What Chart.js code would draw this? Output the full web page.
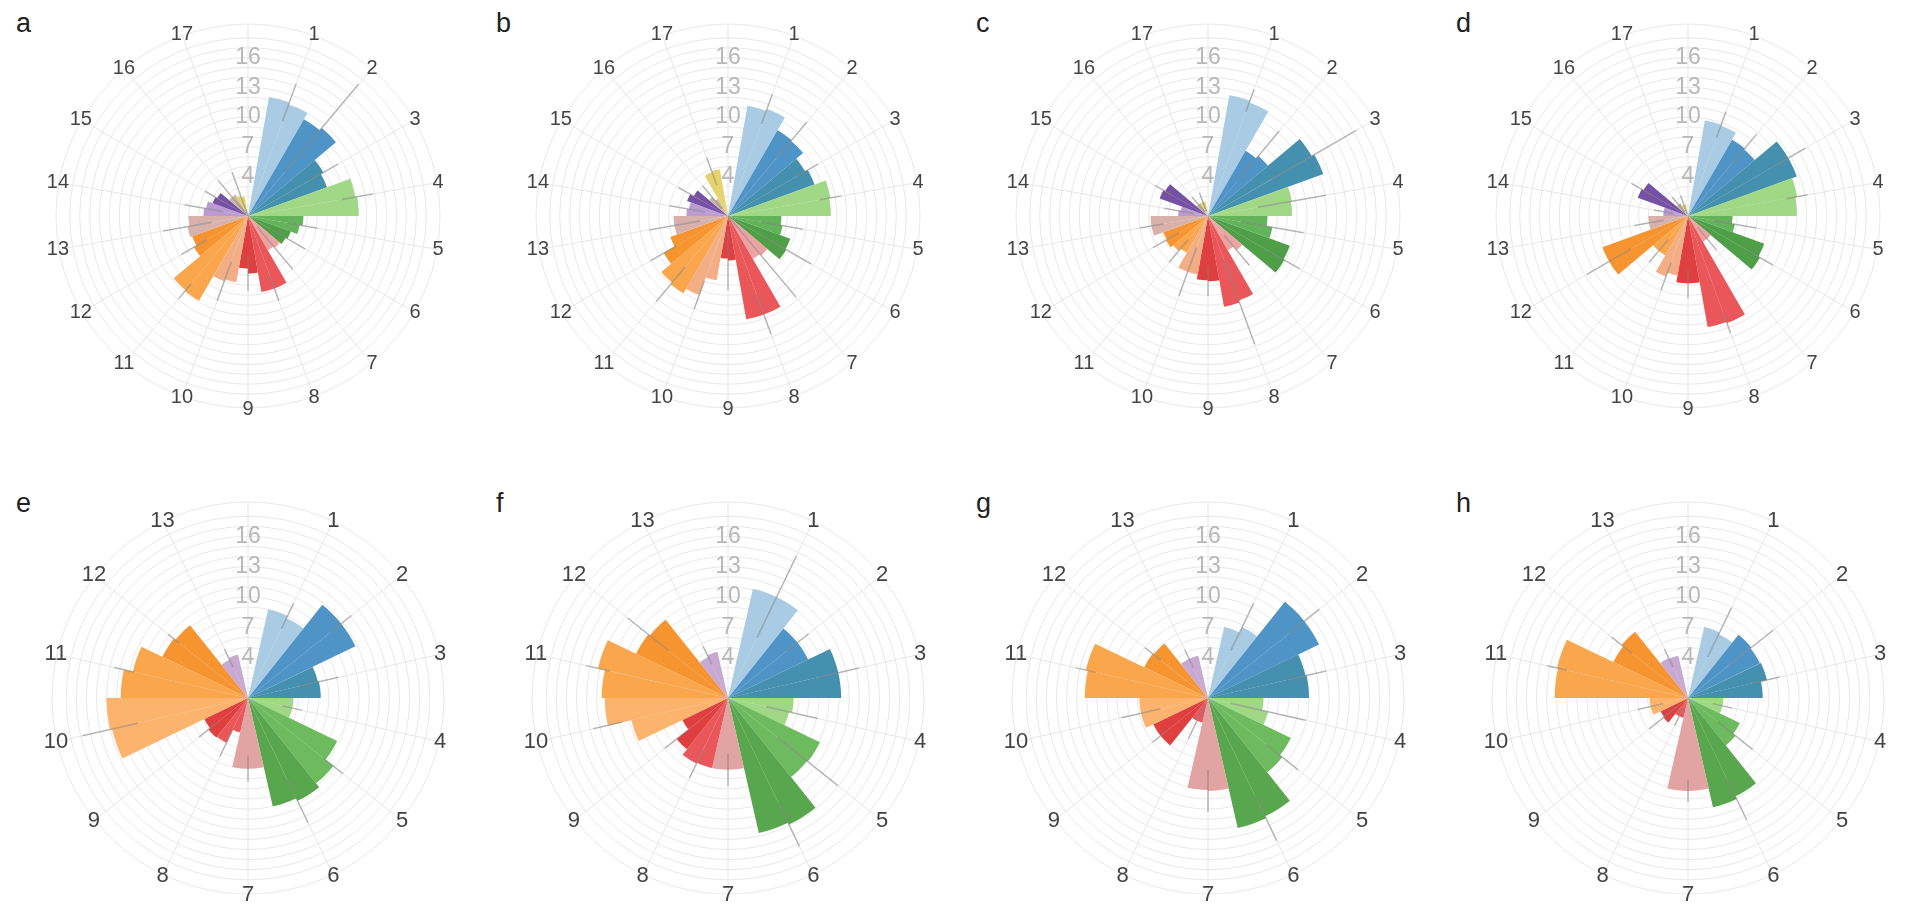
<!DOCTYPE html>
<html>
<head>
<meta charset="utf-8">
<script src="https://cdn.jsdelivr.net/npm/chart.js@4.4.1/dist/chart.umd.min.js"></script>
<style>
  html, body { margin: 0; padding: 0; background: #fff; width: 1906px; height: 906px; overflow: hidden; }
  body { position: relative; font-family: "Liberation Sans", Arial, sans-serif; }
  .panel { position: absolute; }
  .tag { position: absolute; font-size: 27px; line-height: 27px; color: #222; }
</style>
</head>
<body>
<script>
// slot labels round the circle (top row 17 groups, bottom row 13 groups)
const topLabels = ['1','2','3','4','5','6','7','8','9','10','11','12','13','14','15','16','17'];
const bottomLabels = ['1','2','3','4','5','6','7','8','9','10','11','12','13'];
const tickValues = [4, 7, 10, 13, 16];

const topColors = ['#a9cce4','#4f94c6','#4590ae','#a0d886','#63b35a','#4e9f47','#eda3a2','#e9575a',
                   '#df3f3f','#f3ae86','#f9a64c','#f69430','#d8b1ab','#bc9bd3','#7650a4','#c9b9a3','#e7d36c'];
const bottomColors = ['#a9cce4','#4f94c6','#4590ae','#a0d886','#6dbb5e','#58a64d','#e2a3a3','#e9575a',
                      '#df3f3f','#fbb36e','#f9a64c','#f69430','#c7a9d3'];

// two bars per group: [first half, second half] for groups 1..n
const valuesA = [12.2,12.0, 11.3,11.6, 8.8,8.5, 11.0,11.2, 5.6,5.3, 4.6,4.4, 4.2,4.0, 7.8,7.8, 5.8,5.3,
                 6.8,7.0, 9.9,9.8, 6.3,6.0, 6.2,6.0, 4.5,4.3, 3.8,3.6, 2.5,2.5, 2.2,2.0];
const valuesB = [11.3,11.5, 10.0,9.9, 9.0,9.3, 10.5,10.4, 5.4,5.6, 6.7,6.8, 5.2,5.0, 10.6,10.6, 4.5,4.3,
                 6.6,8.5, 9.0,8.8, 7.5,6.2, 5.5,5.5, 4.2,4.0, 4.4,4.0, 2.5,2.0, 4.7,4.8];
const valuesC = [12.4,12.2, 7.6,7.9, 12.1,12.4, 8.6,8.5, 6.0,6.6, 8.8,8.9, 4.5,4.0, 9.1,9.3, 6.6,6.5,
                 6.0,6.0, 4.3,4.6, 4.9,4.8, 5.8,5.8, 3.0,2.8, 5.2,5.0, 1.5,1.5, 1.5,1.5];
const valuesD = [9.8,9.7, 8.9,8.8, 11.7,11.7, 11.2,11.0, 4.5,4.8, 8.2,8.4, 3.0,3.0, 11.5,11.4, 6.8,6.8,
                 6.1,6.5, 4.6,4.6, 9.2,9.2, 4.0,4.0, 2.5,2.5, 5.4,5.2, 1.5,1.5, 1.2,1.2];
const valuesE = [9.0,8.8, 11.8,11.8, 7.1,7.2, 4.5,4.5, 9.8,10.8, 11.3,11.0, 7.0,7.0, 3.5,4.9, 5.0,4.8,
                 13.8,14.0, 12.6,11.7, 9.4,9.2, 4.2,4.4];
const valuesF = [11.1,11.1, 8.8,8.8, 11.2,11.2, 6.5,6.2, 10.1,10.0, 13.9,13.7, 7.1,7.1, 7.1,7.2, 6.5,5.0,
                 9.8,12.2, 12.5,13.2, 10.1,9.9, 4.5,4.7];
const valuesG = [7.2,7.8, 12.2,12.2, 9.9,10.0, 5.5,6.1, 9.1,9.4, 13.0,13.2, 9.2,9.1, 2.5,2.5, 6.0,6.0,
                 6.8,6.8, 12.2,12.4, 7.0,6.9, 4.3,4.3];
const valuesH = [7.2,7.0, 8.0,7.9, 8.0,7.4, 3.5,3.5, 5.7,6.0, 10.8,11.1, 9.2,9.2, 2.0,2.0, 3.1,3.0,
                 3.8,3.8, 13.2,13.3, 8.2,8.4, 4.4,4.3];

// error bar half-lengths, one per group
const errA = [2.0, 5.8, 1.7, 1.6, 1.5, 2.1, 2.8, 1.3, 1.8, 2.1, 1.0, 1.5, 2.5, 2.0, 1.2, 2.2, 2.5];
const errB = [1.6, 2.4, 1.2, 1.1, 2.1, 2.9, 5.5, 2.1, 3.0, 1.5, 2.3, 1.5, 2.6, 1.8, 1.4, 1.5, 1.5];
const errC = [1.2, 3.3, 4.9, 3.5, 3.2, 1.8, 2.0, 4.5, 1.5, 2.6, 1.5, 1.5, 1.2, 1.5, 1.0, 1.0, 1.0];
const errD = [1.4, 1.9, 2.0, 1.1, 2.2, 1.5, 1.5, 1.1, 1.5, 1.5, 1.5, 2.6, 1.5, 1.0, 1.2, 1.0, 1.0];
const errE = [1.4, 1.3, 2.0, 1.0, 1.2, 2.4, 1.3, 1.5, 1.2, 2.8, 1.0, 0.7, 1.0];
const errF = [4.5, 1.4, 2.1, 2.6, 3.8, 2.4, 1.6, 1.6, 1.5, 1.5, 1.2, 2.6, 1.0];
const errG = [2.6, 1.9, 2.0, 3.8, 2.0, 2.5, 2.1, 2.0, 1.0, 2.0, 1.0, 1.0, 1.0];
const errH = [2.7, 2.8, 1.3, 1.0, 2.2, 2.3, 1.1, 1.0, 1.8, 1.3, 1.0, 1.3, 1.0];

const panels = [
  { tag: 'a', values: valuesA, err: errA, row: 0, col: 0 },
  { tag: 'b', values: valuesB, err: errB, row: 0, col: 1 },
  { tag: 'c', values: valuesC, err: errC, row: 0, col: 2 },
  { tag: 'd', values: valuesD, err: errD, row: 0, col: 3 },
  { tag: 'e', values: valuesE, err: errE, row: 1, col: 0 },
  { tag: 'f', values: valuesF, err: errF, row: 1, col: 1 },
  { tag: 'g', values: valuesG, err: errG, row: 1, col: 2 },
  { tag: 'h', values: valuesH, err: errH, row: 1, col: 3 }
];

const FONT = '"Liberation Sans", Arial, sans-serif';
const TICK_SIZE = 23;
const rows = [
  { cy: 216, radius: 192, labels: topLabels, colors: topColors, labelSize: 20, box: 460, tagTop: 10 },
  { cy: 698, radius: 196, labels: bottomLabels, colors: bottomColors, labelSize: 22, box: 470, tagTop: 490 }
];

const byCanvas = {};

// error bars and group labels drawn with the r scale
const polarExtras = {
  id: 'polarExtras',
  afterDatasetsDraw(chart) {
    const p = byCanvas[chart.canvas.id];
    const scale = chart.scales.r;
    const ctx = chart.ctx;
    ctx.save();
    ctx.strokeStyle = 'rgba(125,125,125,0.5)';
    ctx.lineWidth = 1.5;
    p.err.forEach((e, k) => {
      const v = Math.max(p.values[2 * k], p.values[2 * k + 1]);
      const a = scale.getPointPosition(2 * (k + 1), scale.getDistanceFromCenterForValue(Math.max(v - e, 0)));
      const b = scale.getPointPosition(2 * (k + 1), scale.getDistanceFromCenterForValue(v + e));
      ctx.beginPath();
      ctx.moveTo(a.x, a.y);
      ctx.lineTo(b.x, b.y);
      ctx.stroke();
    });
    ctx.restore();
  },
  afterDraw(chart) {
    const p = byCanvas[chart.canvas.id];
    const row = rows[p.row];
    const scale = chart.scales.r;
    const ctx = chart.ctx;
    ctx.save();
    ctx.fillStyle = '#444';
    ctx.font = row.labelSize + 'px ' + FONT;
    ctx.textAlign = 'center';
    ctx.textBaseline = 'middle';
    row.labels.forEach((t, k) => {
      const pos = scale.getPointPosition(2 * (k + 1), scale.drawingArea + 1);
      ctx.fillText(t, pos.x, pos.y);
    });
    ctx.restore();
  }
};

panels.forEach((p, idx) => {
  const row = rows[p.row];
  const cx = 248 + 480 * p.col;

  const tag = document.createElement('div');
  tag.className = 'tag';
  tag.textContent = p.tag;
  tag.style.left = (16 + 480 * p.col) + 'px';
  tag.style.top = row.tagTop + 'px';
  document.body.appendChild(tag);

  const box = document.createElement('div');
  box.className = 'panel';
  box.style.left = (cx - row.box / 2) + 'px';
  box.style.top = (row.cy - row.box / 2) + 'px';
  const canvas = document.createElement('canvas');
  canvas.id = 'polar' + idx;
  canvas.width = row.box;
  canvas.height = row.box;
  box.appendChild(canvas);
  document.body.appendChild(box);
  byCanvas[canvas.id] = p;

  // slot 0 (top) is empty: half of it opens the ring, the other half closes it
  const data = [0].concat(p.values, [0]);
  const colors = data.map((v, i) => (i === 0 || i === data.length - 1) ? 'rgba(0,0,0,0)' : row.colors[Math.ceil(i / 2) - 1]);
  const labels = data.map(() => '');
  const pad = (row.box - (2 * row.radius + TICK_SIZE)) / 2;

  new Chart(canvas, {
    type: 'polarArea',
    data: {
      labels: labels,
      datasets: [{ data: data, backgroundColor: colors, borderWidth: 0 }]
    },
    options: {
      responsive: false,
      animation: false,
      layout: { padding: pad },
      plugins: { legend: { display: false }, tooltip: { enabled: false } },
      scales: {
        r: {
          min: 0,
          max: 19.4,
          startAngle: 0,
          ticks: {
            stepSize: 1,
            autoSkip: false,
            showLabelBackdrop: false,
            backdropPadding: 0,
            color: '#b8b8b8',
            font: { size: TICK_SIZE, family: FONT },
            callback: v => tickValues.includes(v) ? String(v) : ''
          },
          grid: { circular: true, color: '#e8e8e8', lineWidth: 1 },
          angleLines: {
            display: true,
            lineWidth: 1,
            color: c => c.index % 2 === 0 ? '#e6e6e6' : 'rgba(0,0,0,0)'
          },
          pointLabels: { display: false }
        }
      }
    },
    plugins: [polarExtras]
  });
});
</script>
</body>
</html>
